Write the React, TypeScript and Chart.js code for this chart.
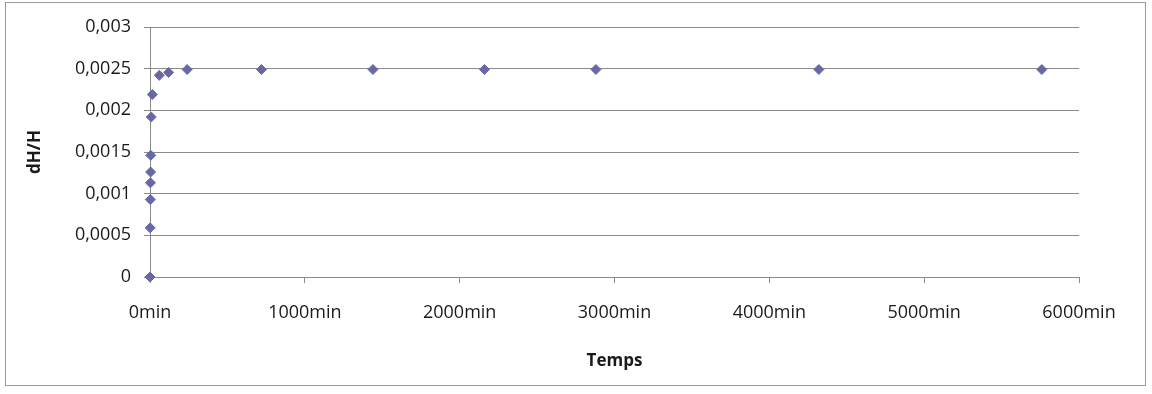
import React, { useEffect, useRef } from "react";
import { Chart, registerables } from "chart.js";

Chart.register(...registerables);

const timesMin = [0, 1, 2, 3, 4, 5, 8, 15, 60, 120, 240, 720, 1440, 2160, 2880, 4320, 5760];
const dHH = [0, 0.00059, 0.00093, 0.00113, 0.00126, 0.00146, 0.00192, 0.00219, 0.00242, 0.002455, 0.00249, 0.00249, 0.00249, 0.00249, 0.00249, 0.00249, 0.00249];
const xTickUnit = "min";
const xTitle = "Temps";
const yTitle = "dH/H";

const FONT = "'Open Sans', 'Noto Sans', sans-serif";
const GRID = "#8a8a8a";
const TEXT = "#1a1a1a";
const POINT = "#6868a8";

export default function App() {
  const ref = useRef<HTMLCanvasElement>(null);
  useEffect(() => {
    if (!ref.current) return;
    const chart = new Chart(ref.current, {
      type: "scatter",
      data: {
        datasets: [
          {
            data: timesMin.map((t, i) => ({ x: t, y: dHH[i] })),
            pointStyle: "rectRot",
            pointRadius: 5,
            pointBorderWidth: 1,
            backgroundColor: POINT,
            borderColor: POINT,
            clip: false,
          },
        ],
      },
      options: {
        animation: false,
        responsive: false,
        layout: { padding: { left: 0, top: 27, right: 73, bottom: 10 } },
        plugins: { legend: { display: false }, tooltip: { enabled: false } },
        scales: {
          x: {
            type: "linear",
            min: 0,
            max: 6000,
            afterFit: (s: any) => {
              s.height = 107;
            },
            ticks: {
              stepSize: 1000,
              padding: 19,
              color: TEXT,
              font: { family: FONT, size: 18 },
              maxRotation: 0,
              callback: (v: any) => `${v}${xTickUnit}`,
            },
            grid: { drawOnChartArea: false, drawTicks: true, tickLength: 6, color: GRID },
            border: { display: true, color: GRID },
            title: {
              display: true,
              text: xTitle,
              color: TEXT,
              font: { family: FONT, size: 17, weight: "bold" },
              padding: { top: 0, bottom: 13 },
            },
          },
          y: {
            min: 0,
            max: 0.003,
            afterFit: (s: any) => {
              s.width = 150;
            },
            ticks: {
              stepSize: 0.0005,
              padding: 13,
              color: TEXT,
              font: { family: FONT, size: 18 },
              callback: (v: any) => Number(Number(v).toFixed(4)).toString().replace(".", ","),
            },
            grid: { color: GRID, tickLength: 6, drawTicks: true },
            border: { display: true, color: GRID },
            title: {
              display: true,
              text: yTitle,
              color: TEXT,
              font: { family: FONT, size: 17, weight: "bold" },
              padding: { top: 25, bottom: 0 },
            },
          },
        },
      },
    });
    return () => chart.destroy();
  }, []);
  return (
    <div style={{ position: "absolute", left: 0, top: 0, width: 1152, height: 394, background: "#fff" }}>
      <div
        style={{
          position: "absolute",
          left: 5,
          top: 2,
          width: 1141,
          height: 384,
          border: "1px solid #9a9a9a",
          boxSizing: "border-box",
        }}
      />
      <canvas ref={ref} width={1152} height={394} style={{ position: "absolute", left: 0, top: 0 }} />
    </div>
  );
}
